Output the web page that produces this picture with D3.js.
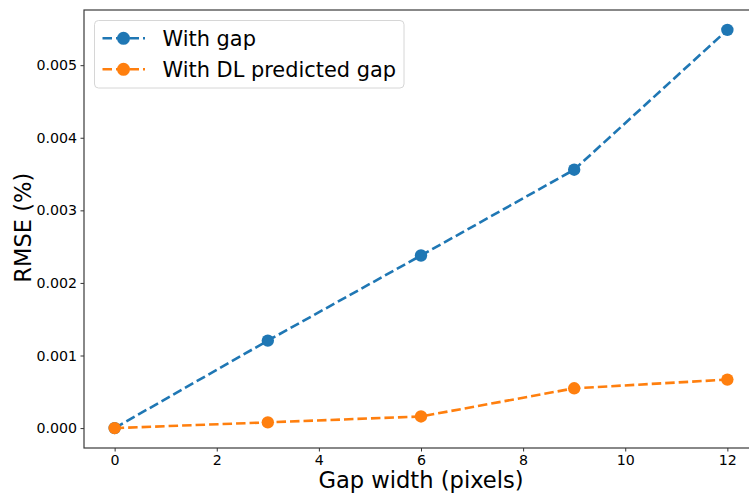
<!DOCTYPE html>
<html>
<head>
<meta charset="utf-8">
<style>
  body { margin: 0; background: #fff; }
  svg { display: block; font-family: "DejaVu Sans", sans-serif; }
</style>
<script src="https://d3js.org/d3.v7.min.js"></script>
</head>
<body>
<script>

  // gap widths (pixels) and RMSE values
  let gapWidths = [0, 3, 6, 9, 12];
  let withGap = [0.0, 0.001205, 0.002378, 0.00356, 0.005486];
  let withDLGap = [0.0, 0.000079, 0.00016, 0.000548, 0.000668];
  let seriesNames = ["With gap", "With DL predicted gap"];
  let xTicks = [0, 2, 4, 6, 8, 10, 12];
  let yTicks = [0, 0.001, 0.002, 0.003, 0.004, 0.005];

  let width = 749, height = 496;
  let margin = {top: 10, left: 84, bottom: 48, right: -9};
  let colors = ["#1f77b4", "#ff7f0e"];

  let svg = d3.select("body").append("svg")
    .attr("width", width)
    .attr("height", height);

  // matplotlib style 5% padding
  let xPad = 0.05 * (d3.max(gapWidths) - d3.min(gapWidths));
  let allY = withGap.concat(withDLGap);
  let yPad = 0.05 * (d3.max(allY) - d3.min(allY));

  let x = d3.scaleLinear()
    .domain([d3.min(gapWidths) - xPad, d3.max(gapWidths) + xPad])
    .range([margin.left, width - margin.right]);

  let y = d3.scaleLinear()
    .domain([d3.min(allY) - yPad, d3.max(allY) + yPad])
    .range([height - margin.bottom, margin.top]);

  // axes
  let xAxis = svg.append("g")
    .attr("transform", `translate(0,${height - margin.bottom})`)
    .call(d3.axisBottom(x).tickValues(xTicks).tickSize(3.5).tickPadding(3.5).tickFormat(d3.format("d")));

  let yAxis = svg.append("g")
    .attr("transform", `translate(${margin.left},0)`)
    .call(d3.axisLeft(y).tickValues(yTicks).tickSize(3.5).tickPadding(3.5).tickFormat(d3.format(".3f")));

  [xAxis, yAxis].forEach(a => {
    a.selectAll("text").attr("font-size", 14.2).attr("fill", "#000").attr("font-family", "DejaVu Sans");
    a.selectAll("line").attr("stroke", "#333");
    a.select(".domain").remove();
  });

  // spines (right one falls outside the canvas)
  svg.append("rect")
    .attr("x", margin.left)
    .attr("y", margin.top)
    .attr("width", width - margin.right - margin.left)
    .attr("height", height - margin.bottom - margin.top)
    .attr("fill", "none")
    .attr("stroke", "#3a3a3a")
    .attr("stroke-width", 1.2);

  // axis labels
  svg.append("text")
    .attr("x", 421)
    .attr("y", 488)
    .attr("text-anchor", "middle")
    .attr("font-size", 22.6)
    .text("Gap width (pixels)");

  svg.append("text")
    .attr("transform", `translate(31,${y(0.00276)}) rotate(-90)`)
    .attr("text-anchor", "middle")
    .attr("font-size", 22.6)
    .text("RMSE (%)");

  // lines + markers
  let data = [withGap, withDLGap];
  let line = d3.line()
    .x((d, i) => x(gapWidths[i]))
    .y(d => y(d));

  data.forEach((vals, k) => {
    svg.append("path")
      .datum(vals)
      .attr("d", line)
      .attr("fill", "none")
      .attr("stroke", colors[k])
      .attr("stroke-width", 2.6)
      .attr("stroke-dasharray", "9.5,4");

    svg.append("g")
      .selectAll("circle")
      .data(vals)
      .join("circle")
        .attr("cx", (d, i) => x(gapWidths[i]))
        .attr("cy", d => y(d))
        .attr("r", 6.2)
        .attr("fill", colors[k]);
  });

  // legend
  let legend = svg.append("g");
  legend.append("rect")
    .attr("x", 94.5)
    .attr("y", 20.5)
    .attr("width", 309.5)
    .attr("height", 67.5)
    .attr("rx", 4)
    .attr("fill", "#fff")
    .attr("fill-opacity", 0.8)
    .attr("stroke", "#d6d6d6");

  seriesNames.forEach((name, k) => {
    let cy = 38.3 + k * 31;
    legend.append("line")
      .attr("x1", 102.5).attr("x2", 145)
      .attr("y1", cy).attr("y2", cy)
      .attr("stroke", colors[k])
      .attr("stroke-width", 2.6)
      .attr("stroke-dasharray", "9.5,4");
    legend.append("circle")
      .attr("cx", 123.5).attr("cy", cy)
      .attr("r", 6.5)
      .attr("fill", colors[k]);
    legend.append("text")
      .attr("x", 162.5)
      .attr("y", cy + 7.5)
      .attr("font-size", 20.9)
      .text(name);
  });

</script>
</body>
</html>
